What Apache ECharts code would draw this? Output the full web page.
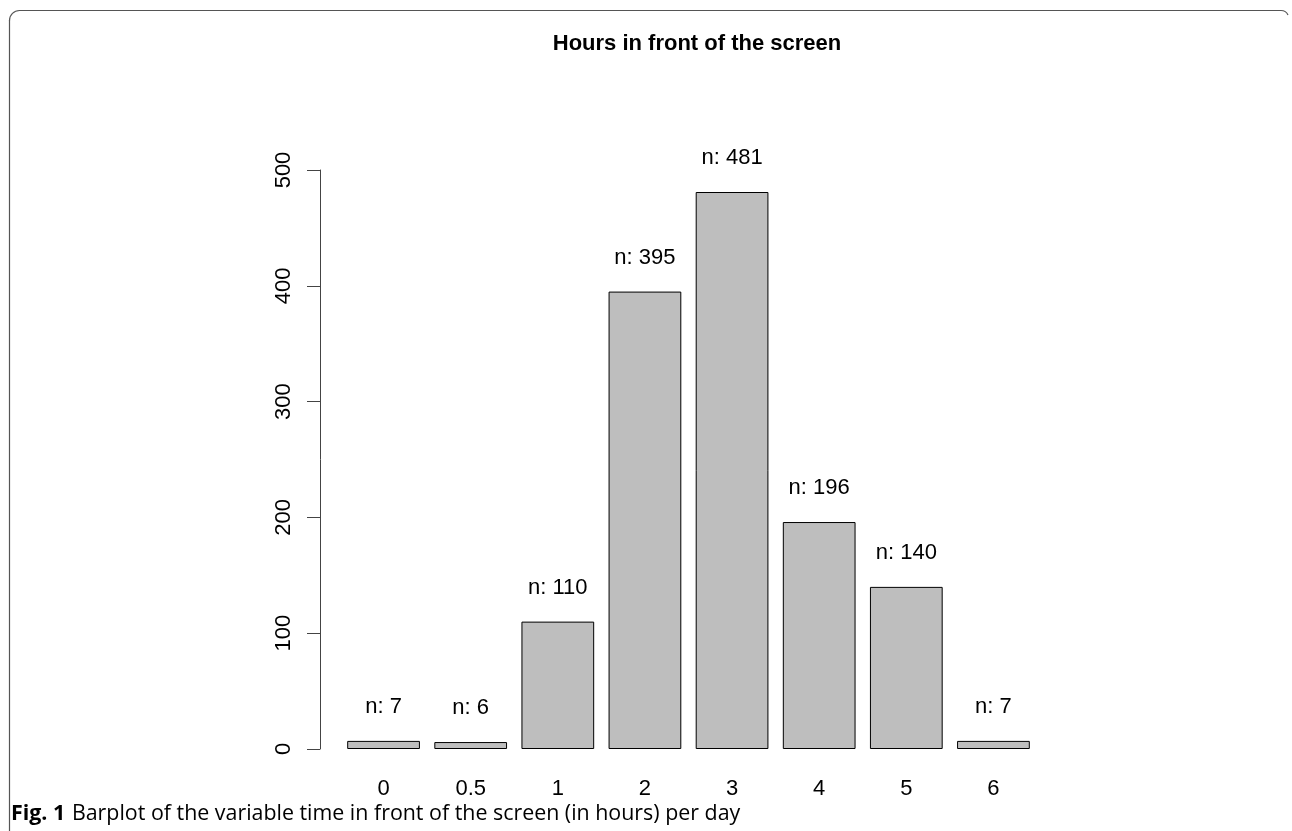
<!DOCTYPE html>
<html>
<head>
<meta charset="utf-8">
<script src="https://cdn.jsdelivr.net/npm/echarts@6/dist/echarts.min.js"></script>
<style>html,body{margin:0;padding:0;background:#fff;}#chart{width:1292px;height:831px;}</style>
</head>
<body>
<div id="chart"></div>
<script>
var categories = ['0', '0.5', '1', '2', '3', '4', '5', '6'];
var counts = [7, 6, 110, 395, 481, 196, 140, 7];
var yTicks = [0, 100, 200, 300, 400, 500];
var titleText = 'Hours in front of the screen';
var captionBold = 'Fig. 1';
var captionText = 'Barplot of the variable time in front of the screen (in hours) per day';

var chart = echarts.init(document.getElementById('chart'), null, {renderer: 'canvas'});
var font = 'Liberation Sans, Arial, sans-serif';
var option = {
  animation: false,
  backgroundColor: '#fff',
  title: {
    text: titleText,
    left: 692, top: 28,
    textAlign: 'center',
    textStyle: {fontFamily: font, fontWeight: 'bold', fontSize: 22, color: '#000'}
  },
  grid: {left: 340, right: 255, top: 170, bottom: 82, containLabel: false},
  xAxis: {
    type: 'category',
    data: categories,
    axisLine: {show: false},
    axisTick: {show: false},
    axisLabel: {fontFamily: font, fontSize: 22, color: '#000', margin: 29}
  },
  yAxis: {
    type: 'value',
    min: yTicks[0], max: yTicks[yTicks.length - 1], interval: 100,
    offset: 20,
    splitLine: {show: false},
    axisLine: {show: true, lineStyle: {color: '#444', width: 1}},
    axisTick: {show: true, length: 13, lineStyle: {color: '#444', width: 1}},
    axisLabel: {fontFamily: font, fontSize: 22, color: '#000', rotate: 90, margin: 25,
      align: 'center', verticalAlign: 'bottom'}
  },
  series: [{
    type: 'bar',
    data: counts,
    barCategoryGap: '16.5%',
    itemStyle: {color: '#BEBEBE', borderColor: '#000', borderWidth: 1},
    label: {
      show: true, position: 'top', distance: 23,
      fontFamily: font, fontSize: 22, color: '#000',
      formatter: function (p) { return 'n: ' + p.value; }
    }
  }],
  graphic: [
    {type: 'line', shape: {x1: 19, y1: 10.5, x2: 1281, y2: 10.5}, style: {stroke: '#555', lineWidth: 1.2}, silent: true},
    {type: 'arc', shape: {cx: 19.5, cy: 20.5, r: 10, startAngle: Math.PI, endAngle: Math.PI * 1.5}, style: {stroke: '#555', lineWidth: 1.2, fill: null}, silent: true},
    {type: 'line', shape: {x1: 9.5, y1: 20, x2: 9.5, y2: 831}, style: {stroke: '#555', lineWidth: 1.2}, silent: true},
    {type: 'bezierCurve', shape: {x1: 1281, y1: 10.5, cpx1: 1286, cpy1: 10.5, x2: 1288, y2: 15}, style: {stroke: '#555', lineWidth: 1.2, fill: null}, silent: true},
    {
      type: 'text', left: 11, top: 803, silent: true,
      style: {
        text: '{b|' + captionBold + '}  {r|' + captionText + '}',
        rich: {
          b: {fontFamily: 'Open Sans, sans-serif', fontWeight: 'bold', fontSize: 21.4, fill: '#000'},
          r: {fontFamily: 'Open Sans, sans-serif', fontSize: 21.4, fill: '#000'}
        }
      }
    }
  ]
};
chart.setOption(option);
</script>
</body>
</html>
